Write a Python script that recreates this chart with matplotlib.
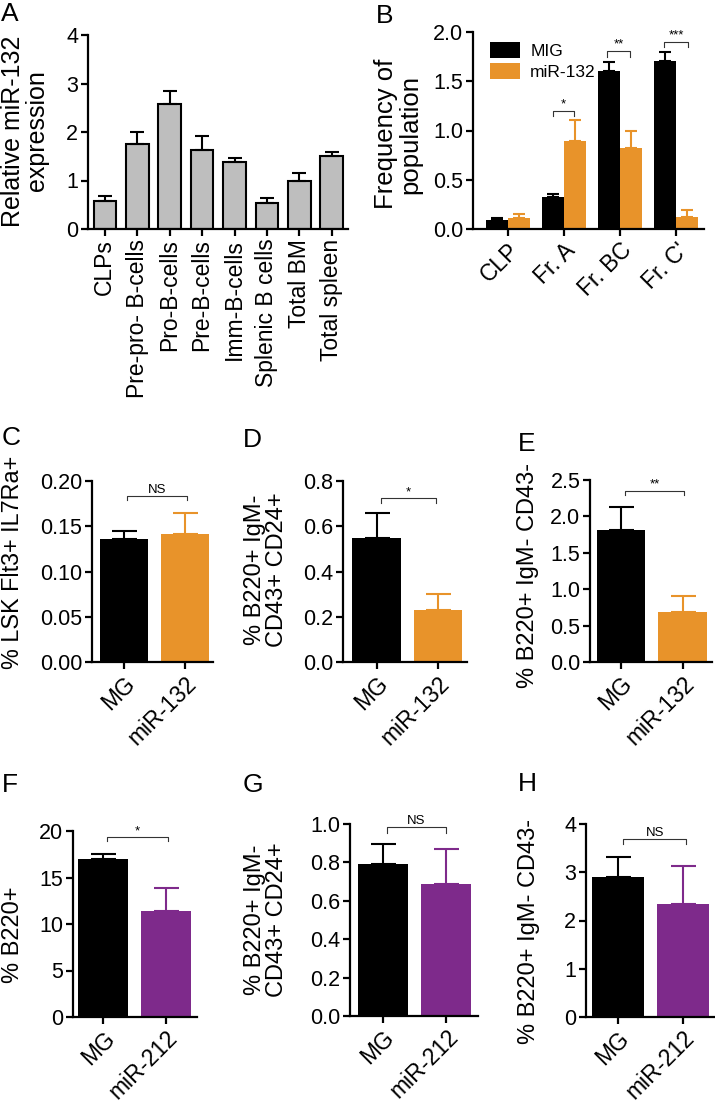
import numpy as np
import matplotlib
matplotlib.use("Agg")
from matplotlib import pyplot as plt
from matplotlib.ticker import FormatStrFormatter

plt.rcParams['font.family'] = ['Liberation Sans', 'DejaVu Sans']

BLACK = '#000000'
ORANGE = '#E8932A'
PURPLE = '#7E2A8B'
GREY = '#BEBEBE'

# panel A
a_labels = ['CLPs', 'Pre-pro- B-cells', 'Pro-B-cells', 'Pre-B-cells',
            'Imm-B-cells', 'Splenic B cells', 'Total BM', 'Total spleen']
a_values = [0.58, 1.75, 2.58, 1.63, 1.39, 0.53, 0.99, 1.51]
a_errors = [0.10, 0.24, 0.27, 0.29, 0.07, 0.11, 0.16, 0.08]

# panel B
b_labels = ['CLP', 'Fr. A', 'Fr. BC', "Fr. C'"]
b_mig = [0.088, 0.32, 1.60, 1.71]
b_mig_err = [0.02, 0.04, 0.10, 0.09]
b_mir = [0.108, 0.89, 0.82, 0.12]
b_mir_err = [0.047, 0.22, 0.18, 0.07]
b_stars = ['', '*', '**', '***']

# panels C-H : MG vs miR
pair_labels_132 = ['MG', 'miR-132']
pair_labels_212 = ['MG', 'miR-212']

c_values = [0.136, 0.141]
c_errors = [0.009, 0.024]
d_values = [0.548, 0.23]
d_errors = [0.11, 0.07]
e_values = [1.82, 0.69]
e_errors = [0.31, 0.22]
f_values = [17.0, 11.4]
f_errors = [0.5, 2.45]
g_values = [0.79, 0.69]
g_errors = [0.106, 0.18]
h_values = [2.91, 2.34]
h_errors = [0.40, 0.78]

XTICK_FS = 16.5
YTICK_FS = 15.5

W, H = 715, 1104
fig = plt.figure(figsize=(W / 100, H / 100), dpi=100)


def make_ax(left, top, right, bottom):
    return fig.add_axes([left / W, 1 - bottom / H, (right - left) / W, (bottom - top) / H])


def style(ax):
    for s in ['top', 'right']:
        ax.spines[s].set_visible(False)
    for s in ['left', 'bottom']:
        ax.spines[s].set_linewidth(1.6)
    ax.tick_params(direction='out', length=5, width=1.6, labelsize=YTICK_FS, pad=2)


def bracket(ax, x0, x1, ylow, ytop, text, fs=9.5):
    ax.plot([x0, x0, x1, x1], [ylow, ytop, ytop, ylow], color='#333333', lw=0.8, clip_on=False)
    ax.text((x0 + x1) / 2, ytop, text, ha='center', va='bottom', fontsize=fs)


def ylabel(x, y, text, fs=17):
    fig.text(x / W, 1 - y / H, text, rotation=90, ha='center', va='center',
             multialignment='center', fontsize=fs, linespacing=1.0)


def letter(x, y, text):
    fig.text(x / W, 1 - y / H, text, ha='left', va='top', fontsize=19)


# ---- A
ax = make_ax(88, 35, 348, 229)
style(ax)
x = np.arange(len(a_values))
ax.bar(x, a_values, width=0.7, color=GREY, edgecolor=BLACK, linewidth=1.5)
ax.errorbar(x, a_values, yerr=[np.zeros(len(x)), a_errors], fmt='none',
            ecolor=BLACK, elinewidth=1.5, capsize=5, capthick=1.5)
ax.set_xlim(-0.52, 7.5)
ax.set_ylim(0, 4)
ax.set_yticks([0, 1, 2, 3, 4])
ax.set_xticks(x)
ax.set_xticklabels(a_labels, rotation=90, fontsize=XTICK_FS)
ylabel(25, 131, 'Relative miR-132\nexpression', fs=18)
letter(1, 2, 'A')

# ---- B
ax = make_ax(473, 32, 704, 229)
style(ax)
x = np.arange(len(b_labels))
w = 0.4
ax.bar(x - w / 2, b_mig, width=w, color=BLACK, label='MIG')
ax.bar(x + w / 2, b_mir, width=w, color=ORANGE, label='miR-132')
ax.errorbar(x - w / 2, b_mig, yerr=[np.zeros(4), b_mig_err], fmt='none',
            ecolor=BLACK, elinewidth=1.5, capsize=4.5, capthick=1.5)
ax.errorbar(x + w / 2, b_mir, yerr=[np.zeros(4), b_mir_err], fmt='none',
            ecolor=ORANGE, elinewidth=1.5, capsize=4.5, capthick=1.5)
ax.set_xlim(-0.625, 3.5)
ax.set_ylim(0, 2.0)
ax.set_yticks([0, 0.5, 1.0, 1.5, 2.0])
ax.yaxis.set_major_formatter(FormatStrFormatter('%.1f'))
ax.set_xticks(x)
ax.set_xticklabels(b_labels, rotation=45, ha='right', rotation_mode='anchor',
                   fontsize=XTICK_FS)
bracket(ax, 0.8, 1.17, 1.15, 1.20, b_stars[1])
bracket(ax, 1.77, 2.18, 1.75, 1.81, b_stars[2])
bracket(ax, 2.79, 3.21, 1.85, 1.90, b_stars[3])
ax.legend(loc='upper left', bbox_to_anchor=(0.03, 1.0), frameon=False, fontsize=12.5,
          handlelength=1.7, handleheight=1.0, handletextpad=0.6, labelspacing=0.25,
          borderaxespad=0.2)
ylabel(398, 134, 'Frequency of\npopulation', fs=18.5)
letter(376, 4, 'B')


def pair_panel(box, values, errors, color, labels, ylim, ticks, fmt, xlim, br, stars):
    ax = make_ax(*box)
    style(ax)
    x = np.arange(2)
    ax.bar(x, values, width=0.79, color=[BLACK, color])
    ax.errorbar(x[:1], values[:1], yerr=[[0], errors[:1]], fmt='none',
                ecolor=BLACK, elinewidth=1.5, capsize=9, capthick=1.5)
    ax.errorbar(x[1:], values[1:], yerr=[[0], errors[1:]], fmt='none',
                ecolor=color, elinewidth=1.5, capsize=9, capthick=1.5)
    ax.set_xlim(*xlim)
    ax.set_ylim(*ylim)
    ax.set_yticks(ticks)
    if fmt:
        ax.yaxis.set_major_formatter(FormatStrFormatter(fmt))
    ax.set_xticks(x)
    ax.set_xticklabels(labels, rotation=45, ha='right', rotation_mode='anchor',
                       fontsize=XTICK_FS)
    bracket(ax, br[0], br[1], br[2], br[3], stars)
    return ax


# ---- C
pair_panel((92, 481, 213, 662), c_values, c_errors, ORANGE, pair_labels_132,
           (0, 0.20), [0, 0.05, 0.10, 0.15, 0.20], '%.2f', (-0.52, 1.46),
           (0.06, 1.03, 0.179, 0.183), 'NS')
ylabel(13, 562, '% LSK Flt3+ IL7Ra+', fs=16.8)
letter(2, 426, 'C')

# ---- D
pair_panel((343, 481, 467, 662), d_values, d_errors, ORANGE, pair_labels_132,
           (0, 0.8), [0, 0.2, 0.4, 0.6, 0.8], '%.1f', (-0.55, 1.48),
           (0.07, 0.98, 0.703, 0.725), '*')
ylabel(266, 570, '% B220+ IgM-\nCD43+ CD24+')
letter(243, 428, 'D')

# ---- E
pair_panel((590, 480, 712, 662), e_values, e_errors, ORANGE, pair_labels_132,
           (0, 2.5), [0, 0.5, 1.0, 1.5, 2.0, 2.5], '%.1f', (-0.5, 1.47),
           (0.06, 1.02, 2.29, 2.35), '**')
ylabel(528, 575, '% B220+ IgM- CD43-')
letter(518, 432, 'E')

# ---- F
pair_panel((73, 831, 197, 1017), f_values, f_errors, PURPLE, pair_labels_212,
           (0, 20), [0, 5, 10, 15, 20], None, (-0.48, 1.49),
           (0.06, 1.03, 18.9, 19.35), '*')
ylabel(13, 935, '% B220+')
letter(2, 773, 'F')

# ---- G
pair_panel((350, 824, 478, 1016), g_values, g_errors, PURPLE, pair_labels_212,
           (0, 1.0), [0, 0.2, 0.4, 0.6, 0.8, 1.0], '%.1f', (-0.52, 1.5),
           (0.06, 1.0, 0.953, 0.984), 'NS')
ylabel(266, 920, '% B220+ IgM-\nCD43+ CD24+')
letter(243, 773, 'G')

# ---- H
pair_panel((586, 824, 715, 1017), h_values, h_errors, PURPLE, pair_labels_212,
           (0, 4), [0, 1, 2, 3, 4], None, (-0.49, 1.49),
           (0.08, 1.05, 3.58, 3.69), 'NS')
ylabel(529, 932, '% B220+ IgM- CD43-')
letter(518, 772, 'H')

fig.savefig('out.png', dpi=100)
